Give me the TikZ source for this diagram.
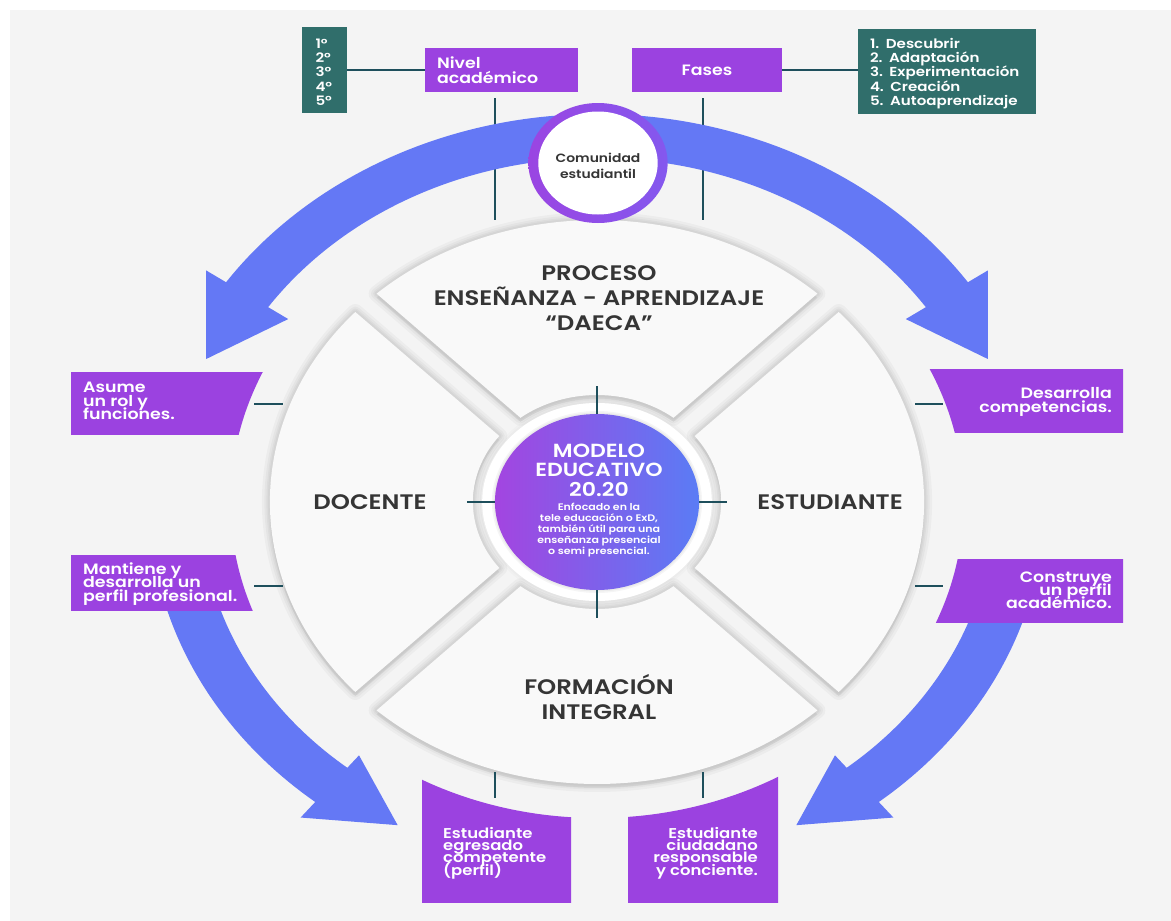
\documentclass[tikz,border=0pt]{standalone}
\usepackage{fontspec}
\setmainfont{Poppins}[FakeStretch=1.16]
\IfFontExistsTF{Poppins SemiBold}{\newfontfamily\semib{Poppins SemiBold}[FakeStretch=1.16]}{\newcommand\semib{\bfseries}}
\newcommand\tightlines{\lineskiplimit=-100pt\lineskip=0pt}
\definecolor{bgc}{HTML}{F4F4F4}
\definecolor{segc}{HTML}{F9F9F9}
\definecolor{boxp}{HTML}{9B42E0}
\definecolor{gboxc}{HTML}{306E6B}
\definecolor{arrowb}{HTML}{6478F5}
\definecolor{linec}{HTML}{1E4F5C}
\definecolor{txtc}{HTML}{353535}
\definecolor{cpurple}{HTML}{A345E0}
\definecolor{cblue}{HTML}{5A7CF5}
\definecolor{rpurple}{HTML}{9A45E2}
\definecolor{rblue}{HTML}{8458EE}
\newcommand\segpath[1]{(47.64+#1:282) arc[start angle=47.64+#1, end angle=132.36+#1, radius=282] -- (128.07+#1:107) arc[start angle=128.07+#1, end angle=51.93+#1, radius=107] -- cycle}
\newcommand\cutbox[4]{%
  \begin{scope}
    \clip (#1,#2) rectangle (#3,#4);
    \fill[boxp, even odd rule] (#1-60,#2-60) rectangle (#3+60,#4+60) (597,502) ellipse [x radius=366.6, y radius=316];
  \end{scope}}
\begin{document}
\begin{tikzpicture}[x=1pt,y=-1pt,
  tick/.style={draw=linec, line width=1.8pt},
  pbox/.style={fill=boxp, text=white, font=\semib\fontsize{15}{15}\selectfont\tightlines, inner sep=0pt},
  gbox/.style={fill=gboxc, text=white, font=\semib\fontsize{13}{14.3}\selectfont\tightlines, inner sep=0pt},
  btxt/.style={text=white, font=\semib\fontsize{15}{13.2}\selectfont\tightlines, inner sep=0pt},
  bbtxt/.style={text=white, font=\semib\fontsize{14.2}{12.4}\selectfont\tightlines, inner sep=0pt},
  disctxt/.style={text=txtc, font=\semib\fontsize{21}{25}\selectfont\tightlines, inner sep=0pt, align=center}]
\useasboundingbox (0,0) rectangle (1171,921);
\fill[white] (0,0) rectangle (1171,921);
\fill[bgc] (10,10) rectangle (1171,921);

% top boxes
\node[gbox, minimum width=45pt, minimum height=86pt, text width=18pt, align=left] (grado) at (324.5,70) {};
\node[gbox, fill=none, text width=18pt, align=left] (gradotxt) at (324.5,72) {1°\\2°\\3°\\4°\\5°};
\node[pbox, minimum width=153pt, minimum height=44pt, text width=129pt, align=left] (nivel) at (501.5,70) {Nivel\\académico};
\node[pbox, minimum width=150pt, minimum height=44pt] (fases) at (707,70) {Fases};
\node[gbox, minimum width=178pt, minimum height=85pt] (fasesl) at (947,71.5) {};
\node[gbox, fill=none, text width=154pt, align=left] (faseslt) at (947,73.5) {1. Descubrir\\2. Adaptación\\3. Experimentación\\4. Creación\\5. Autoaprendizaje};
\draw[tick] (nivel.west) -- (nivel.west -| grado.east);
\draw[tick] (fases.east) -- (fases.east -| fasesl.west);
\coordinate (nivA) at (495,98); \coordinate (nivB) at (495,220);
\coordinate (fasA) at (703,98); \coordinate (fasB) at (703,220);
\draw[tick] (nivA) -- (nivB);
\draw[tick] (fasA) -- (fasB);

% disc
\begin{scope}[shift={(597,502)}, xscale=1.16, yscale=-1]
  \foreach \k in {0,90,180,270}{
    \foreach \w in {16,11,7,4}{\draw[black, opacity=0.03, line width=\w pt, line join=round] \segpath{\k};}
    \fill[black, opacity=0.05, shift={(0,-4)}] \segpath{\k};
  }
  \foreach \k in {0,90,180,270}{\fill[segc] \segpath{\k};}
  \foreach \w in {8,4}{\draw[black, opacity=0.015, line width=\w pt] (0,0) circle (99);}
  \fill[white] (0,0) circle (99);
  \foreach \w in {6,3}{\draw[black, opacity=0.04, line width=\w pt] (0,0) circle (88);}
  \shade[left color=cpurple, right color=cblue] (0,0) circle (88);
  % arrows
  \fill[arrowb] (90:388) arc[start angle=90, end angle=145.5, radius=388] -- (145.5:409) -- (157:366) -- (145.5:323) -- (145.5:344) arc[start angle=145.5, end angle=90, radius=344] -- cycle;
  \fill[arrowb] (90:388) arc[start angle=90, end angle=34.5, radius=388] -- (34.5:409) -- (23:366) -- (34.5:323) -- (34.5:344) arc[start angle=34.5, end angle=90, radius=344] -- cycle;
  \fill[arrowb] (192:386) arc[start angle=192, end angle=231, radius=386] -- (231:406) -- (242:366) -- (231:326) -- (231:342) arc[start angle=231, end angle=192, radius=342] -- cycle;
  \fill[arrowb] (348:386) arc[start angle=348, end angle=309, radius=386] -- (309:406) -- (298:366) -- (309:326) -- (309:342) arc[start angle=309, end angle=348, radius=342] -- cycle;
  % center ticks
  \coordinate (ctA) at (90:88); \coordinate (ctB) at (90:116);
  \coordinate (cbA) at (270:88); \coordinate (cbB) at (270:116);
  \coordinate (clA) at (180:88); \coordinate (clB) at (180:112);
  \coordinate (crA) at (0:88); \coordinate (crB) at (0:112);
\end{scope}
\draw[tick] (ctA) -- (ctB);
\draw[tick] (cbA) -- (cbB);
\draw[tick] (clA) -- (clB);
\draw[tick] (crA) -- (crB);

% comunidad circle
\begin{scope}[shift={(598,163)}, xscale=1.16, yscale=-1]
  \shade[left color=rpurple, right color=rblue] (0,0) circle (60);
  \fill[white] (0,0) circle (51.5);
\end{scope}
\node[text=txtc, font=\semib\fontsize{12}{16}\selectfont\tightlines, align=center, inner sep=0pt] (comu) at (598,166) {Comunidad\\estudiantil};

% side and bottom boxes
\cutbox{71}{372}{330}{434}
\cutbox{71}{555}{330}{610}
\cutbox{870}{369}{1123}{432}
\cutbox{870}{559}{1123}{622}
\cutbox{422}{740}{571}{902}
\cutbox{628}{740}{778}{902}
\node[btxt, align=left, anchor=west] (asume) at (83,401) {Asume\\un rol y\\funciones.};
\node[btxt, align=left, anchor=west] (mant) at (83,584) {Mantiene y\\desarrolla un\\perfil profesional.};
\node[btxt, align=right, anchor=east] (desa) at (1112,402) {Desarrolla\\competencias.};
\node[btxt, align=right, anchor=east] (cons) at (1112,590) {Construye\\un perfil\\académico.};
\node[bbtxt, align=left, anchor=west] (egre) at (443,853) {Estudiante\\egresado\\competente\\(perfil)};
\node[bbtxt, align=right, anchor=east] (ciud) at (758,853) {Estudiante\\ciudadano\\responsable\\y conciente.};

% side ticks
\coordinate (t1a) at (254,404); \coordinate (t1b) at (283,404);
\coordinate (t2a) at (254,586); \coordinate (t2b) at (283,586);
\coordinate (t3a) at (915,404); \coordinate (t3b) at (943,404);
\coordinate (t4a) at (915,586); \coordinate (t4b) at (943,586);
\coordinate (t5a) at (495,772); \coordinate (t5b) at (495,798);
\coordinate (t6a) at (703,772); \coordinate (t6b) at (703,798);
\draw[tick] (t1a) -- (t1b);
\draw[tick] (t2a) -- (t2b);
\draw[tick] (t3a) -- (t3b);
\draw[tick] (t4a) -- (t4b);
\draw[tick] (t5a) -- (t5b);
\draw[tick] (t6a) -- (t6b);

% disc texts
\node[disctxt] (proc) at (599,298) {PROCESO\\ENSEÑANZA - APRENDIZAJE\\“DAECA”};
\node[disctxt] (doc) at (370,502) {DOCENTE};
\node[disctxt] (est) at (830,502) {ESTUDIANTE};
\node[disctxt] (form) at (599,697) {FORMACIÓN\\INTEGRAL};
\node[text=white, font=\semib\fontsize{19}{19.5}\selectfont\tightlines, align=center, inner sep=0pt] (mod) at (599,470) {MODELO\\EDUCATIVO\\20.20};
\node[text=white, font=\semib\fontsize{9.5}{11}\selectfont\tightlines, align=center, inner sep=0pt] (desc) at (599,530) {Enfocado en la\\tele educación o ExD,\\también útil para una\\enseñanza presencial\\o semi presencial.};
\end{tikzpicture}
\end{document}
